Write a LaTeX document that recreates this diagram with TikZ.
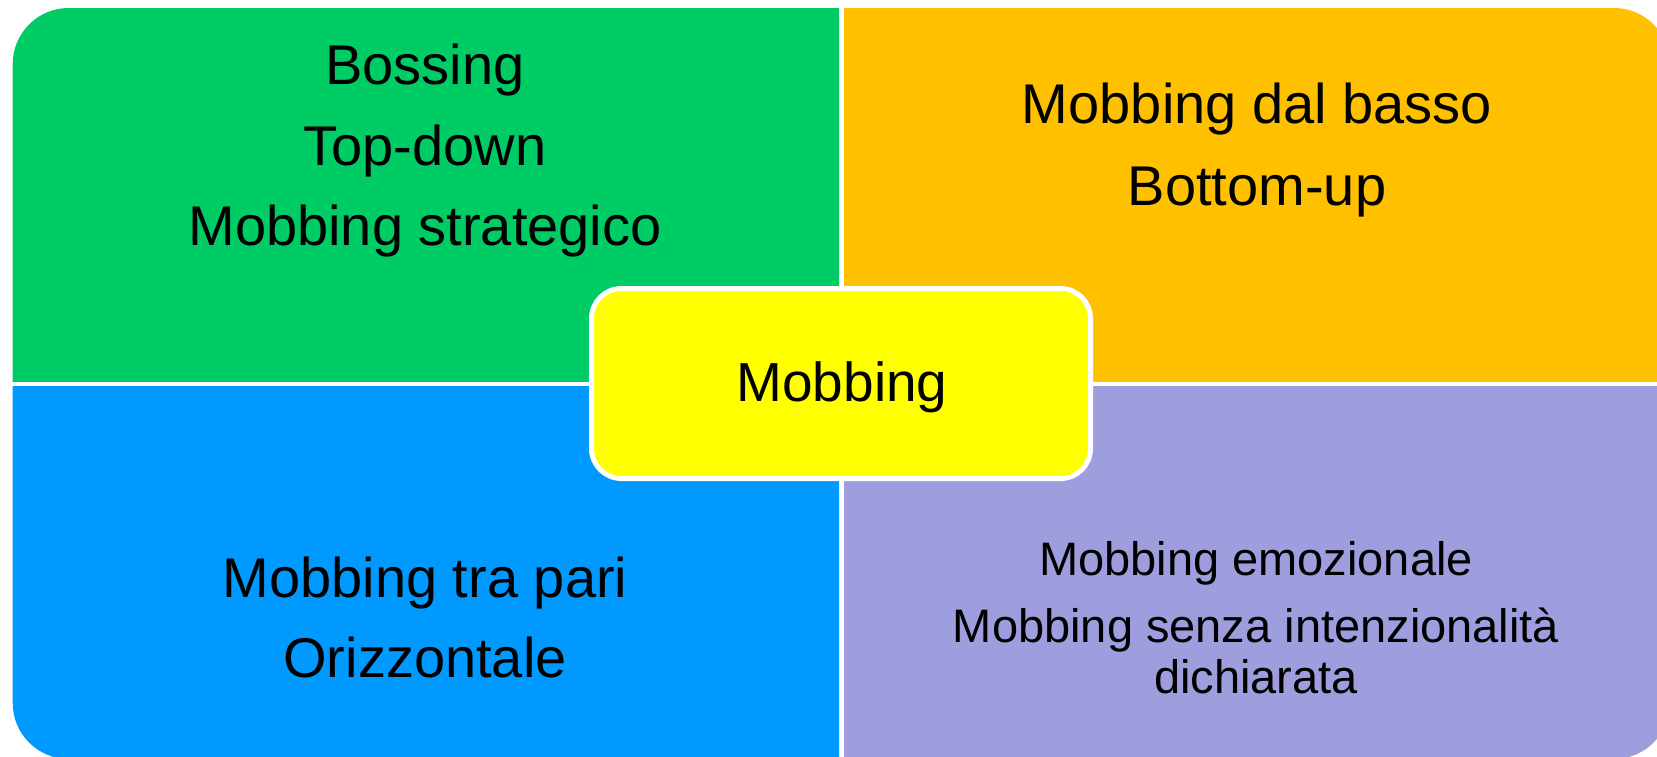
\documentclass[tikz,border=0pt]{standalone}
\usepackage{fontspec}
\setmainfont{Liberation Sans}
\definecolor{qgreen}{RGB}{0,204,102}
\definecolor{qorange}{RGB}{255,192,0}
\definecolor{qblue}{RGB}{0,153,255}
\definecolor{qpurple}{RGB}{158,158,222}
\definecolor{qyellow}{RGB}{255,255,0}
\tikzset{
  bigtxt/.style={anchor=base, inner sep=0pt, font=\fontsize{56}{66}\selectfont},
  smalltxt/.style={anchor=base, inner sep=0pt, font=\fontsize{47}{56}\selectfont},
  centerbox/.style={fill=qyellow, draw=white, line width=5pt, rounded corners=30pt}
}
\begin{document}
\begin{tikzpicture}[x=1pt,y=-1pt]
\useasboundingbox (0,0) rectangle (1657,756);
\clip (0,0) rectangle (1657,756);
% quadrants
\begin{scope}
  \clip (0,0) rectangle (839,381);
  \fill[qgreen, rounded corners=56pt] (12.7,8) rectangle (1670,759);
\end{scope}
\begin{scope}
  \clip (844,0) rectangle (1700,381);
  \fill[qorange, rounded corners=56pt] (12.7,8) rectangle (1670,759);
\end{scope}
\begin{scope}
  \clip (0,386) rectangle (839,800);
  \fill[qblue, rounded corners=56pt] (12.7,8) rectangle (1670,759);
\end{scope}
\begin{scope}
  \clip (844,386) rectangle (1700,800);
  \fill[qpurple, rounded corners=56pt] (12.7,8) rectangle (1670,759);
\end{scope}
% texts
\node[bigtxt] (g1) at (425,84) {Bossing};
\node[bigtxt] (g2) at (425,165) {Top-down};
\node[bigtxt] (g3) at (425,245) {Mobbing strategico};
\node[bigtxt] (o1) at (1257,123) {Mobbing dal basso};
\node[bigtxt] (o2) at (1257,205) {Bottom-up};
\node[bigtxt] (b1) at (425,597) {Mobbing tra pari};
\node[bigtxt] (b2) at (425,677) {Orizzontale};
\node[smalltxt] (p1) at (1256,575) {Mobbing emozionale};
\node[smalltxt] (p2) at (1256,642) {Mobbing senza intenzionalità};
\node[smalltxt] (p3) at (1256,693) {dichiarata};
% center
\path[centerbox] (591.5,288.5) rectangle (1090.5,478.5);
\node[bigtxt, font=\fontsize{55}{64}\selectfont] (c) at (842,401) {Mobbing};
\end{tikzpicture}
\end{document}
